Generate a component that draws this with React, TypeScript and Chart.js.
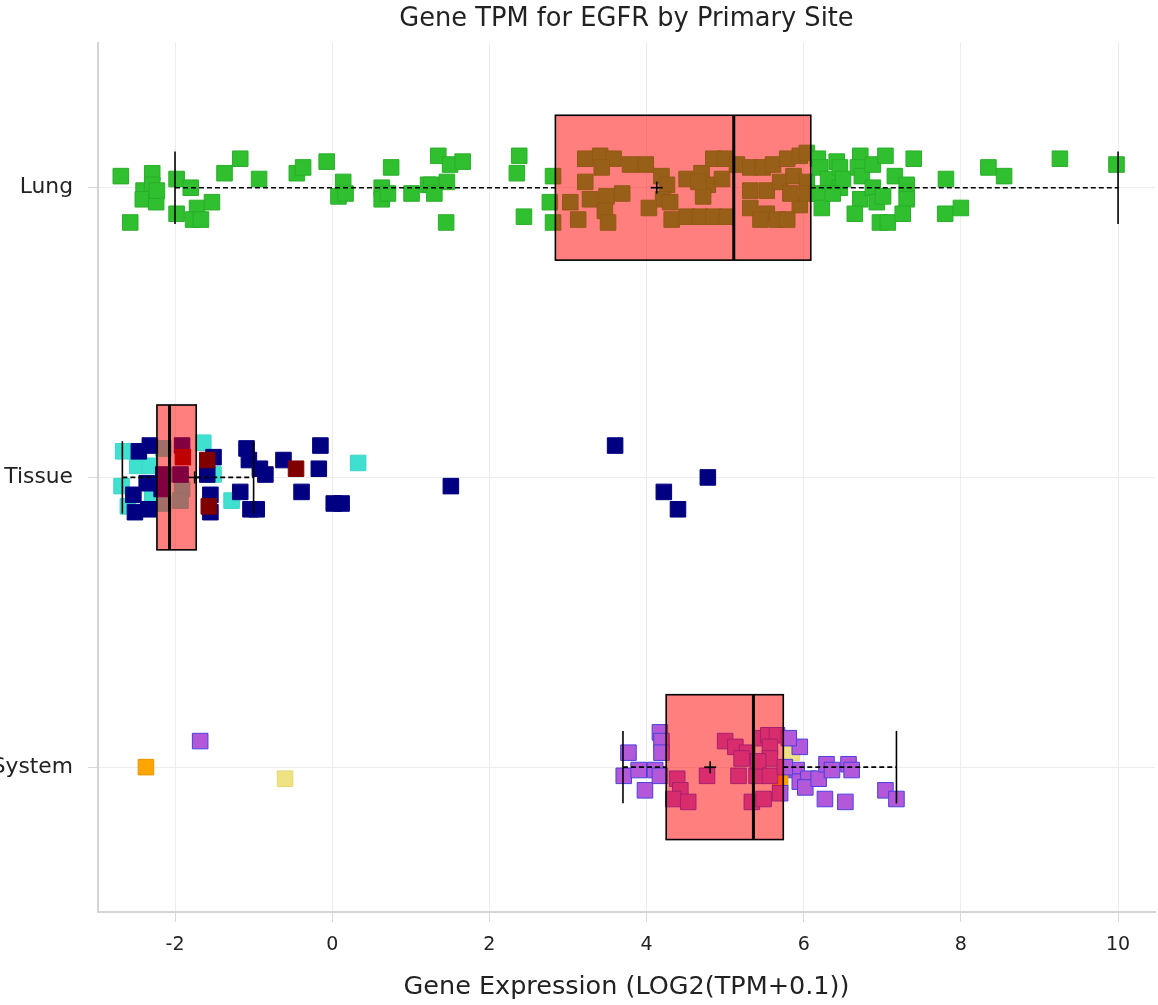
import React, { useEffect, useRef } from "react";
import { Chart, registerables } from "chart.js";

Chart.register(...registerables);

// ---------- data ----------
const categories = ["Lung", "Tissue", "System"];
const xTicks = [-2, 0, 2, 4, 6, 8, 10];

// box statistics per category (same order as categories)
const whiskerLow = [-2.0, -2.67, 3.7];
const quartile1 = [2.84, -2.23, 4.25];
const medians = [5.11, -2.07, 5.36];
const quartile3 = [6.09, -1.73, 5.74];
const whiskerHigh = [10.0, -1.0, 7.18];
const means = [4.13, -1.75, 4.81];

// points: [value, vertical jitter within band]
const lungPoints: [number, number][] = [
  [-2.69, -0.04], [-2.29, -0.05], [-2.4, 0.01], [-2.29, -0.01], [-2.41, 0.04], [-2.24, 0.05], [-2.23, 0.01],
  [-2.57, 0.12], [-1.98, -0.03], [-1.8, 0.0], [-1.98, 0.09], [-1.72, 0.07], [-1.77, 0.11], [-1.67, 0.11],
  [-1.53, 0.05], [-1.37, -0.05], [-1.17, -0.1], [-0.93, -0.03], [-0.45, -0.05], [-0.37, -0.07], [-0.07, -0.09],
  [0.14, -0.02], [0.08, 0.03], [0.17, 0.02], [0.63, 0.0], [0.75, -0.07], [0.63, 0.04], [0.71, 0.02],
  [1.01, 0.02], [1.22, -0.01], [1.35, -0.11], [1.5, -0.08], [1.66, -0.09], [1.26, -0.01], [1.46, -0.02],
  [1.3, 0.02], [1.45, 0.12], [2.38, -0.11], [2.35, -0.05], [2.44, 0.1], [2.81, -0.04], [2.77, 0.05],
  [2.81, 0.12], [3.03, 0.05], [3.22, -0.1], [3.41, -0.11], [3.58, -0.1], [3.43, -0.07], [3.22, -0.02],
  [3.79, -0.08], [3.99, -0.08], [3.28, 0.04], [3.49, 0.03], [3.69, 0.02], [3.47, 0.08], [3.13, 0.11],
  [3.51, 0.12], [4.19, -0.04], [4.26, -0.01], [4.21, 0.04], [4.03, 0.07], [4.3, 0.05], [4.32, 0.11],
  [4.51, 0.1], [4.68, 0.1], [4.85, 0.1], [4.51, -0.03], [4.7, -0.05], [4.78, -0.01], [4.72, 0.03],
  [4.85, -0.1], [5.0, -0.1], [4.96, -0.03], [5.02, 0.1], [4.66, -0.02], [5.15, -0.08], [5.32, -0.07],
  [5.48, -0.07], [5.61, -0.08], [5.79, -0.1], [5.95, -0.11], [6.04, -0.12], [5.32, 0.01], [5.53, 0.01],
  [5.7, -0.02], [5.87, -0.04], [6.04, -0.02], [5.32, 0.07], [5.53, 0.09], [5.66, 0.11], [5.79, 0.11],
  [5.95, 0.06], [5.83, 0.02], [5.45, 0.11], [6.04, 0.02], [6.18, -0.1], [6.21, -0.07], [6.31, -0.03],
  [6.17, 0.02], [6.23, 0.07], [6.42, -0.09], [6.46, -0.07], [6.46, 0.0], [6.37, 0.02], [6.5, -0.03],
  [6.72, -0.11], [6.69, -0.07], [6.74, -0.04], [6.72, 0.04], [6.65, 0.09], [6.88, -0.08], [6.88, 0.0],
  [6.93, 0.05], [6.97, 0.12], [7.04, -0.11], [7.01, 0.03], [7.07, 0.12], [7.16, -0.04], [7.31, -0.01],
  [7.31, 0.04], [7.26, 0.09], [7.4, -0.1], [7.81, -0.03], [7.8, 0.09], [8.0, 0.07], [8.35, -0.07],
  [8.55, -0.04], [9.26, -0.1], [9.98, -0.08],
];

const tissueTurquoise: [number, number][] = [
  [-2.66, -0.09], [-2.68, 0.03], [-2.48, -0.04], [-2.32, -0.04], [-2.29, 0.07], [-1.64, -0.12], [-1.51, -0.01],
  [-1.28, 0.08], [0.33, -0.05], [-2.15, -0.1], [-1.91, 0.04], [-2.15, 0.09], [-1.93, 0.08], [-2.6, 0.1],
];
const tissueNavy: [number, number][] = [
  [-2.46, -0.09], [-2.32, -0.11], [-2.53, 0.06], [-2.51, 0.12], [-2.34, 0.11], [-2.36, 0.02], [-1.51, -0.07],
  [-1.59, -0.01], [-1.55, 0.06], [-1.55, 0.12], [-1.09, -0.1], [-1.06, -0.06], [-0.92, -0.03], [-0.85, -0.01],
  [-1.17, 0.05], [-1.04, 0.11], [-0.96, 0.11], [-0.62, -0.06], [-0.15, -0.11], [-0.17, -0.03], [-0.39, 0.05],
  [0.02, 0.09], [0.12, 0.09], [1.51, 0.03], [3.6, -0.11], [4.22, 0.05], [4.4, 0.11], [4.78, 0.0],
  [-1.91, -0.11], [-2.15, -0.01], [-1.93, -0.01], [-2.17, 0.04],
];
const tissueMaroon: [number, number][] = [
  [-1.59, -0.06], [-1.57, 0.1], [-0.46, -0.03], [-1.9, -0.07],
];

const systemPurple: [number, number][] = [
  [3.77, -0.05], [3.71, 0.03], [3.9, 0.01], [3.98, 0.08], [4.11, 0.01], [4.17, -0.12], [4.19, -0.09],
  [4.19, -0.05], [4.17, 0.03], [4.39, 0.04], [4.43, 0.08], [4.34, 0.11], [4.53, 0.12], [4.77, 0.03],
  [5.0, -0.09], [5.13, -0.07], [5.28, -0.05], [5.17, 0.03], [5.4, 0.03], [5.21, -0.03], [5.45, -0.1],
  [5.55, -0.11], [5.66, -0.11], [5.57, -0.07], [5.57, -0.03], [5.42, -0.02], [5.57, 0.03], [5.34, 0.12],
  [5.49, 0.11], [5.7, 0.09], [5.95, -0.07], [5.91, 0.01], [5.95, 0.05], [6.06, 0.04], [6.02, 0.07],
  [6.19, 0.04], [6.29, -0.01], [6.36, 0.01], [6.27, 0.11], [6.53, 0.12], [6.57, -0.01], [6.61, 0.01],
  [5.81, -0.1], [5.76, 0.0], [7.04, 0.08], [7.18, 0.11], [-1.68, -0.09],
];
const systemYellow: [number, number][] = [[-0.6, 0.04], [5.85, -0.05]];
const systemOrange: [number, number][] = [[-2.37, 0.0], [5.7, 0.05]];

// ---------- styling ----------
const FONT = "'DejaVu Sans', sans-serif";
const BOX_HALF = 0.25;
const CAP_HALF = 0.125;

type Group = { label: string; cat: number; pts: [number, number][]; fill: string; border: string };

// listed top-most first (Chart.js draws dataset 0 last)
const groups: Group[] = [
  { label: "System A", cat: 2, pts: systemPurple, fill: "#b258d8", border: "#4a40e0" },
  { label: "System B", cat: 2, pts: systemYellow, fill: "#eee283", border: "#e3d86e" },
  { label: "System C", cat: 2, pts: systemOrange, fill: "#ffa500", border: "#e89400" },
  { label: "Tissue C", cat: 1, pts: tissueMaroon, fill: "#800000", border: "#800000" },
  { label: "Tissue B", cat: 1, pts: tissueNavy, fill: "#000080", border: "#000080" },
  { label: "Tissue A", cat: 1, pts: tissueTurquoise, fill: "#40e0d0", border: "#3cd6c6" },
  { label: "Lung", cat: 0, pts: lungPoints, fill: "#2fbf2f", border: "#2aae2a" },
];

const boxPlugin = {
  id: "boxes",
  afterDatasetsDraw(chart: any) {
    const { ctx } = chart;
    const xs = chart.scales.x;
    const ys = chart.scales.y;
    const line = (x1: number, y1: number, x2: number, y2: number) => {
      ctx.beginPath();
      ctx.moveTo(x1, y1);
      ctx.lineTo(x2, y2);
      ctx.stroke();
    };
    ctx.save();
    ctx.strokeStyle = "#000";
    for (let i = 0; i < categories.length; i++) {
      const yc = ys.getPixelForValue(i);
      const yTop = ys.getPixelForValue(i - BOX_HALF);
      const yBot = ys.getPixelForValue(i + BOX_HALF);
      const cTop = ys.getPixelForValue(i - CAP_HALF);
      const cBot = ys.getPixelForValue(i + CAP_HALF);
      const pLow = xs.getPixelForValue(whiskerLow[i]);
      const pQ1 = xs.getPixelForValue(quartile1[i]);
      const pMed = xs.getPixelForValue(medians[i]);
      const pQ3 = xs.getPixelForValue(quartile3[i]);
      const pHigh = xs.getPixelForValue(whiskerHigh[i]);
      const pMean = xs.getPixelForValue(means[i]);
      // dashed whiskers
      ctx.lineWidth = 1.6;
      ctx.setLineDash([5, 3]);
      line(pLow, yc, pQ1, yc);
      line(pQ3, yc, pHigh, yc);
      ctx.setLineDash([]);
      // caps
      ctx.lineWidth = 1.6;
      line(pLow, cTop, pLow, cBot);
      line(pHigh, cTop, pHigh, cBot);
      // box
      ctx.fillStyle = "rgba(255,0,0,0.5)";
      ctx.fillRect(pQ1, yTop, pQ3 - pQ1, yBot - yTop);
      ctx.lineWidth = 1.6;
      ctx.strokeRect(pQ1, yTop, pQ3 - pQ1, yBot - yTop);
      // median
      ctx.lineWidth = 3;
      line(pMed, yTop, pMed, yBot);
      // mean marker
      ctx.lineWidth = 1.6;
      line(pMean - 6, yc, pMean + 6, yc);
      line(pMean, yc - 6, pMean, yc + 6);
    }
    ctx.restore();
  },
};

export default function App() {
  const ref = useRef<HTMLCanvasElement | null>(null);
  useEffect(() => {
    if (!ref.current) return;
    const chart = new Chart(ref.current, {
      type: "scatter",
      data: {
        datasets: groups.map((g) => ({
          label: g.label,
          data: g.pts.map(([v, j]) => ({ x: v, y: g.cat + j })),
          backgroundColor: g.fill,
          borderColor: g.border,
          borderWidth: 1,
          pointStyle: "rect",
          pointRadius: 11,
          pointHoverRadius: 11,
        })),
      },
      options: {
        responsive: false,
        animation: false,
        layout: { padding: { left: 0, right: 0, top: 0, bottom: 0 } },
        plugins: {
          legend: { display: false },
          tooltip: { enabled: false },
          title: {
            display: true,
            fullSize: false,
            text: "Gene TPM for EGFR by Primary Site",
            color: "#222",
            font: { family: FONT, size: 25.7, weight: "normal" },
            padding: { top: 4, bottom: 8 },
          },
        },
        scales: {
          x: {
            type: "linear",
            min: -2.98,
            max: 10.47,
            afterBuildTicks: (axis: any) => {
              axis.ticks = xTicks.map((v) => ({ value: v }));
            },
            afterFit: (axis: any) => {
              axis.height = 93;
            },
            grid: { color: "#ececec", tickLength: 10, tickColor: "#d8d8d8" },
            border: { display: true, color: "#d4d4d4", width: 2 },
            ticks: {
              color: "#222",
              padding: 12,
              font: { family: FONT, size: 19 },
              maxRotation: 0,
            },
            title: {
              display: true,
              text: "Gene Expression (LOG2(TPM+0.1))",
              color: "#222",
              font: { family: FONT, size: 25.5 },
              padding: { top: 4, bottom: 2 },
            },
          },
          y: {
            type: "linear",
            min: -0.5,
            max: 2.5,
            reverse: true,
            afterBuildTicks: (axis: any) => {
              axis.ticks = categories.map((_, i) => ({ value: i }));
            },
            afterFit: (axis: any) => {
              axis.width = 98;
            },
            grid: { color: "#ececec", tickLength: 10, tickColor: "#d8d8d8" },
            border: { display: true, color: "#d4d4d4", width: 2 },
            ticks: {
              color: "#222",
              padding: 15,
              font: { family: FONT, size: 21.8 },
              callback: (v: any) => categories[v as number] ?? "",
            },
          },
        },
      },
      plugins: [boxPlugin],
    });
    return () => chart.destroy();
  }, []);
  return (
    <div style={{ position: "absolute", left: 0, top: 0, width: 1158, height: 1005, overflow: "hidden", background: "#fff" }}>
      <canvas ref={ref} width={1167} height={1005} />
    </div>
  );
}
